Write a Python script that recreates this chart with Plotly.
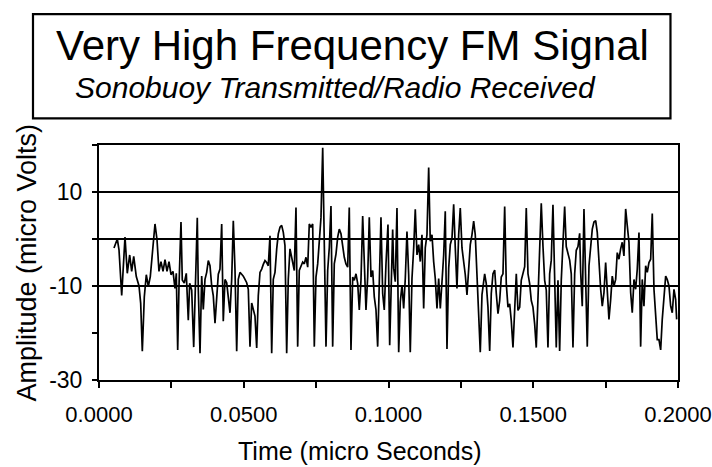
import plotly.graph_objects as go

# Time (micro seconds) of each traced vertex and its amplitude (micro volts)
time_us = [
    0.00518, 0.00632, 0.00691, 0.00784, 0.00898, 0.00977, 0.01060, 0.01129, 0.01199, 0.01288,
    0.01382, 0.01440, 0.01496, 0.01565, 0.01634, 0.01703, 0.01772, 0.01841, 0.01934, 0.02003,
    0.02072, 0.02141, 0.02211, 0.02280, 0.02349, 0.02418, 0.02487, 0.02556, 0.02625, 0.02670,
    0.02718, 0.02763, 0.02832, 0.02877, 0.02946, 0.03015, 0.03084, 0.03133, 0.03202, 0.03271,
    0.03340, 0.03395,
    0.03430, 0.03489, 0.03547, 0.03602, 0.03661, 0.03720, 0.03775, 0.03834, 0.03893, 0.03948,
    0.04007, 0.04065, 0.04121, 0.04179, 0.04238, 0.04293, 0.04352, 0.04411, 0.04466, 0.04525,
    0.04583, 0.04639, 0.04697, 0.04756, 0.04811, 0.04870, 0.04929, 0.04984, 0.05043, 0.05102,
    0.05157, 0.05216, 0.05274, 0.05330, 0.05388, 0.05447, 0.05502, 0.05561, 0.05620, 0.05675,
    0.05734, 0.05792, 0.05848, 0.05906, 0.05965, 0.06020, 0.06079, 0.06138, 0.06193, 0.06252,
    0.06310, 0.06366, 0.06424, 0.06483, 0.06538, 0.06597,
    0.06690, 0.06746, 0.06804, 0.06863, 0.06918, 0.06977, 0.07036, 0.07091, 0.07150, 0.07209,
    0.07264, 0.07322, 0.07381, 0.07437, 0.07495, 0.07554, 0.07609, 0.07668, 0.07727, 0.07782,
    0.07841, 0.07899, 0.07955, 0.08013, 0.08072, 0.08127, 0.08186, 0.08245, 0.08300, 0.08359,
    0.08417, 0.08473, 0.08531, 0.08590, 0.08645, 0.08704, 0.08763, 0.08818, 0.08877, 0.08936,
    0.08991, 0.09049, 0.09108, 0.09163, 0.09222, 0.09281, 0.09336, 0.09395, 0.09454, 0.09509,
    0.09568, 0.09626, 0.09682, 0.09740, 0.09799, 0.09854, 0.09913,
    0.09982, 0.10041, 0.10086, 0.10144, 0.10179, 0.10234, 0.10293, 0.10352, 0.10407, 0.10466,
    0.10524, 0.10580, 0.10638, 0.10697, 0.10752, 0.10811, 0.10870, 0.10925, 0.10984, 0.11042,
    0.11098, 0.11156, 0.11215, 0.11270, 0.11329, 0.11388, 0.11443, 0.11502, 0.11560, 0.11616,
    0.11675, 0.11733, 0.11789, 0.11847, 0.11906, 0.11961, 0.12020, 0.12079, 0.12134, 0.12193,
    0.12251, 0.12307, 0.12365, 0.12424, 0.12479, 0.12538, 0.12597, 0.12652, 0.12711, 0.12769,
    0.12825, 0.12883, 0.12942, 0.12997, 0.13056, 0.13115, 0.13170, 0.13229,
    0.13322, 0.13377, 0.13436, 0.13495, 0.13550, 0.13609, 0.13668, 0.13723, 0.13782, 0.13840,
    0.13895, 0.13954, 0.14013, 0.14068, 0.14127, 0.14186, 0.14241, 0.14300, 0.14358, 0.14414,
    0.14472, 0.14531, 0.14586, 0.14645, 0.14704, 0.14759, 0.14818, 0.14876, 0.14932, 0.14990,
    0.15049, 0.15104, 0.15163, 0.15222, 0.15277, 0.15336, 0.15394, 0.15450, 0.15508, 0.15567,
    0.15622, 0.15681, 0.15740, 0.15795, 0.15854, 0.15912, 0.15968, 0.16026, 0.16085, 0.16140,
    0.16199, 0.16258, 0.16313, 0.16372, 0.16431, 0.16486, 0.16545, 0.16603,
    0.16638, 0.16693, 0.16752, 0.16811, 0.16866, 0.16925, 0.16983, 0.17039, 0.17097, 0.17156,
    0.17211, 0.17270, 0.17329, 0.17384, 0.17443, 0.17501, 0.17557, 0.17615, 0.17674, 0.17729,
    0.17788, 0.17847, 0.17902, 0.17961, 0.18019, 0.18075, 0.18133, 0.18192, 0.18247, 0.18306,
    0.18365, 0.18420, 0.18479, 0.18537, 0.18593, 0.18652, 0.18710, 0.18765, 0.18824, 0.18883,
    0.18938, 0.18997, 0.19056, 0.19111, 0.19170, 0.19228, 0.19284, 0.19342, 0.19401, 0.19456,
    0.19515, 0.19574, 0.19629, 0.19688, 0.19747, 0.19802, 0.19861, 0.19919, 0.19954,
]

amplitude_uv = [
    -1.9, 0.0, -2.3, -12.0, 0.4, -7.3, -3.4, -6.9, -3.7, -8.0,
    -10.0, -13.7, -23.9, -12.3, -7.6, -10.1, -8.0, -3.0, 3.2, -0.1,
    -6.9, -4.8, -6.9, -4.4, -6.9, -4.8, -7.6, -6.9, -10.5, -7.3,
    -23.6, -10.1, 3.6, -8.7, -9.4, -7.3, -17.3, -9.4, -10.9, -23.0,
    -8.7, 4.5,
    -10.7, -24.3, -7.9, -15.0, -8.6, -7.1, -4.6, -5.7, -10.0, -12.1,
    -17.9, -12.1, -7.5, -6.4, 3.2, -17.5, -8.6, -9.3, -12.1, -15.7,
    -8.6, 3.9, -6.4, -23.9, -8.6, -7.1, -7.5, -7.9, -8.6, -9.3,
    -10.7, -22.9, -13.6, -15.0, -16.4, -23.2, -12.1, -7.1, -6.4, -5.4,
    -4.6, -5.0, -5.7, 0.7, -24.3, -8.6, -7.1, -2.1, 1.1, 2.5,
    2.9, 1.4, -1.4, -24.3, -8.6, -2.1,
    -5.3, -6.7, 6.7, -22.9, -6.7, -5.6, -4.9, -5.3, -3.9, -6.0,
    3.2, 2.5, 3.2, -22.9, -8.1, -5.3, -0.4, 4.6, 19.4, -5.3,
    -22.9, -6.7, -1.8, 7.0, -22.9, -5.3, -3.2, 0.4, 2.1, 1.1,
    -1.8, -3.9, -5.3, -6.0, 6.7, -23.6, -8.1, -8.8, -7.4, -9.5,
    -15.1, -8.8, 4.9, -6.7, -15.1, -8.1, 4.6, -8.1, -6.7, -12.3,
    -15.1, -22.9, -11.6, 4.6, -11.6, -15.1, -5.3,
    3.1, -22.6, -9.8, 2.0, -6.2, -9.1, 6.6, -24.1, -13.4, -9.8,
    -14.8, -8.4, 1.6, -7.6, -24.1, -8.4, -1.9, 6.3, -3.4, -1.2,
    -4.8, 0.9, -14.8, -1.9, 0.9, 15.2, -0.5, 0.9, -4.8, -8.4,
    -14.8, -8.4, -14.8, -8.4, -3.4, 5.9, -23.4, -6.2, -1.2, 0.2,
    7.4, -1.9, -10.5, 0.9, 6.6, -1.9, -4.8, -7.6, -11.9, -6.2,
    -1.2, 0.9, 3.8, 0.9, -7.6, -17.6, -24.1, -11.9,
    -7.4, -9.5, -14.5, -23.8, -11.6, -7.4, -6.6, -11.6, -15.9, -13.1,
    -8.1, -7.4, 6.9, -9.5, -14.5, -13.8, -17.4, -23.1, -14.5, -7.4,
    -15.2, -14.5, -8.8, -7.4, -5.9, 6.6, -7.4, -9.5, -13.1, -14.5,
    -18.1, -23.1, -10.9, -0.9, 7.6, -1.6, -8.8, -10.9, -23.1, -7.4,
    -4.5, 7.3, -7.4, -23.1, -8.8, -23.8, -8.8, -0.9, 6.9, -1.6,
    -3.1, -4.5, -7.4, -23.1, -7.4, -2.4, -1.6, 1.2,
    -7.1, -14.3, 6.4, -8.6, -22.9, -5.7, -0.7, 2.1, 3.6, 3.9,
    1.4, -5.7, -10.7, -14.3, -11.4, -5.0, -11.4, -17.1, -12.9, -7.9,
    -10.0, -8.6, -2.9, -4.3, -2.1, -0.7, -3.6, 6.4, 2.9, -0.7,
    -11.4, -15.7, -8.6, -10.7, -6.4, 1.4, -22.9, -8.6, -14.3, -5.7,
    -7.1, -5.0, -4.3, 5.4, -10.7, -16.4, -21.4, -21.4, -23.6, -17.1,
    -12.9, -7.9, -8.6, -10.0, -14.3, -15.7, -10.7, -12.9, -17.1,
]

x_range = [0, 0.2]
y_range = [-30, 20]
x_major_ticks = [0.0, 0.05, 0.10, 0.15, 0.2]
x_major_labels = ["0.0000", "0.0500", "0.1000", "0.1500", "0.2000"]
x_minor_step = 0.025
y_major_ticks = [-30, -10, 10]
y_major_labels = ["-30", "-10", "10"]
y_minor_step = 10
y_grid_values = [-10, 0, 10]

FONT = "Liberation Sans, Arial, sans-serif"

fig = go.Figure()
fig.add_trace(go.Scatter(
    x=time_us, y=amplitude_uv, mode="lines",
    line=dict(color="black", width=1.7),
    showlegend=False, hoverinfo="skip",
))

for gv in y_grid_values:
    fig.add_shape(type="line", xref="paper", yref="y", x0=0, x1=1, y0=gv, y1=gv,
                  line=dict(color="black", width=1.8), layer="below")

# title box
fig.add_shape(type="rect", xref="paper", yref="paper",
              x0=-0.114, x1=0.987, y0=1.113, y1=1.557,
              line=dict(color="black", width=2.2), fillcolor="white")

fig.add_annotation(text="Very High Frequency FM Signal", xref="paper", yref="paper",
                   x=0.437, y=1.425, showarrow=False, xanchor="center", yanchor="middle",
                   font=dict(family=FONT, size=42, color="black"))
fig.add_annotation(text="<i>Sonobuoy Transmitted/Radio Received</i>", xref="paper", yref="paper",
                   x=0.408, y=1.245, showarrow=False, xanchor="center", yanchor="middle",
                   font=dict(family=FONT, size=30, color="black"))
fig.add_annotation(text="Amplitude (micro Volts)", xref="paper", yref="paper",
                   x=-0.126, y=0.5, showarrow=False, textangle=-90,
                   xanchor="center", yanchor="middle",
                   font=dict(family=FONT, size=27, color="black"))
fig.add_annotation(text="Time (micro Seconds)", xref="paper", yref="paper",
                   x=0.45, y=-0.30, showarrow=False, xanchor="center", yanchor="middle",
                   font=dict(family=FONT, size=25, color="black"))

common_tick = dict(tickwidth=1.5, tickcolor="black")

fig.update_layout(
    width=712, height=467,
    margin=dict(l=99, r=34, t=145, b=87, autoexpand=False),
    paper_bgcolor="white", plot_bgcolor="white",
    font=dict(family=FONT, color="black"),
    xaxis=dict(
        range=x_range, tickvals=x_major_ticks, ticktext=x_major_labels,
        ticks="outside", ticklen=6, **common_tick,
        minor=dict(dtick=x_minor_step, tick0=0, ticks="outside", ticklen=6, **common_tick),
        showgrid=False, zeroline=False, automargin=False,
        showline=True, linecolor="black", linewidth=2, mirror=True,
        tickfont=dict(family=FONT, size=22, color="black"),
        ticklabelstandoff=8, ticklabeloverflow="allow",
    ),
    xaxis2=dict(
        range=x_range, overlaying="x", side="bottom", matches="x",
        dtick=x_minor_step, tick0=0, ticks="inside", ticklen=6, **common_tick,
        showticklabels=False, showgrid=False, zeroline=False, showline=False,
        automargin=False,
    ),
    yaxis=dict(
        range=y_range, tickvals=y_major_ticks, ticktext=y_major_labels,
        ticks="outside", ticklen=5, **common_tick,
        minor=dict(dtick=y_minor_step, tick0=0, ticks="outside", ticklen=5, **common_tick),
        showgrid=False, zeroline=False, automargin=False,
        showline=True, linecolor="black", linewidth=2, mirror=True,
        tickfont=dict(family=FONT, size=23, color="black"),
        ticklabelstandoff=5,
    ),
    yaxis2=dict(
        range=y_range, overlaying="y", side="left", matches="y",
        dtick=y_minor_step, tick0=0, ticks="inside", ticklen=5, **common_tick,
        showticklabels=False, showgrid=False, zeroline=False, showline=False,
        automargin=False,
    ),
)

# remove the page's default body margin so the 712x467 figure fills the window exactly
fig.write_html(
    "out.html",
    config={"displayModeBar": False},
    post_script="document.body.style.margin='0';document.body.style.overflow='hidden';",
)
